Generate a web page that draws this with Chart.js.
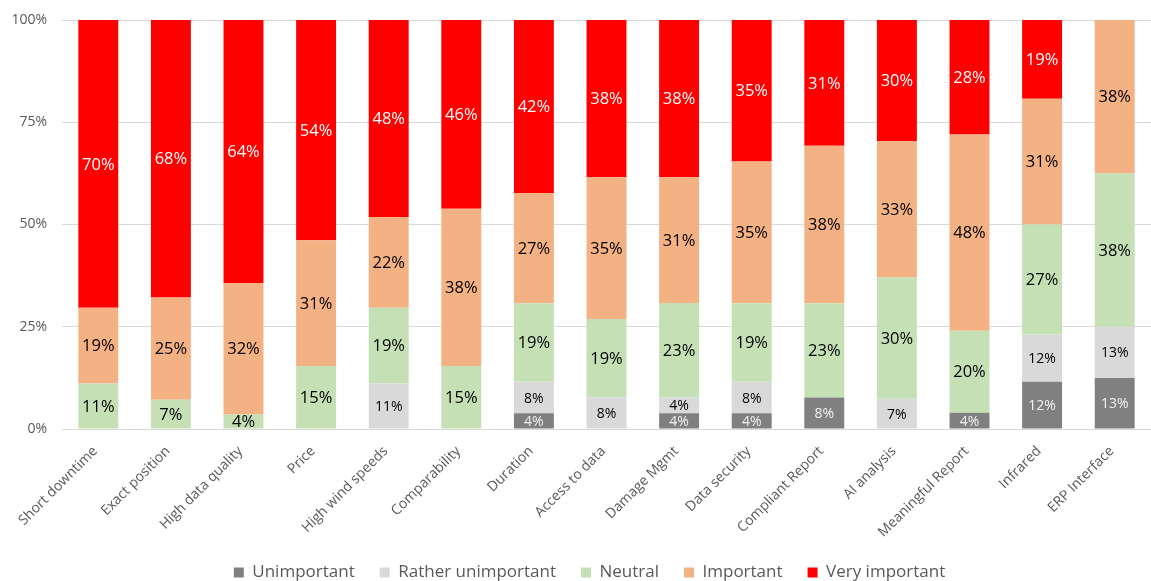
<!DOCTYPE html>
<html>
<head>
<meta charset="utf-8">
<script src="https://cdn.jsdelivr.net/npm/chart.js@4/dist/chart.umd.min.js"></script>
<style>
  html, body { margin: 0; padding: 0; background: #ffffff; }
  #wrap { width: 1151px; height: 581px; position: relative; }
</style>
</head>
<body>
<div id="wrap"><canvas id="c" width="1151" height="581"></canvas></div>
<script>
const categories = ["Short downtime", "Exact position", "High data quality", "Price", "High wind speeds",
  "Comparability", "Duration", "Access to data", "Damage Mgmt", "Data security",
  "Compliant Report", "AI analysis", "Meaningful Report", "Infrared", "ERP Interface"];

const seriesNames = ["Unimportant", "Rather unimportant", "Neutral", "Important", "Very important"];

const unimportant       = [0, 0, 0, 0, 0, 0, 3.85, 0, 3.85, 3.85, 7.69, 0, 4.0, 11.54, 12.5];
const ratherUnimportant = [0, 0, 0, 0, 11.11, 0, 7.69, 7.69, 3.85, 7.69, 0, 7.41, 0, 11.54, 12.5];
const neutral           = [11.11, 7.14, 3.57, 15.38, 18.52, 15.38, 19.23, 19.23, 23.08, 19.23, 23.08, 29.63, 20.0, 26.92, 37.5];
const important         = [18.52, 25.0, 32.14, 30.77, 22.22, 38.46, 26.92, 34.62, 30.77, 34.62, 38.46, 33.33, 48.0, 30.77, 37.5];
const veryImportant     = [70.37, 67.86, 64.29, 53.85, 48.15, 46.15, 42.31, 38.46, 38.46, 34.62, 30.77, 29.63, 28.0, 19.23, 0];

const yTicks = [0, 25, 50, 75, 100];

const colors = ["#808080", "#d9d9d9", "#c5e0b4", "#f4b183", "#ff0000"];
const labelColors = ["#f2f2f2", "#000000", "#000000", "#000000", "#ffffff"];
const labelSizes = [14, 14, 16.5, 16.5, 16.5];
const FONT = "'Open Sans', sans-serif";

const seriesData = [unimportant, ratherUnimportant, neutral, important, veryImportant];

const labelPlugin = {
  id: 'segLabels',
  beforeDraw(chart) {
    if (chart.legend) { chart.legend.left += 28; }
  },
  afterDatasetsDraw(chart) {
    const ctx = chart.ctx;
    ctx.save();
    ctx.textAlign = 'center';
    ctx.textBaseline = 'middle';
    chart.data.datasets.forEach((ds, di) => {
      const meta = chart.getDatasetMeta(di);
      if (meta.hidden) return;
      meta.data.forEach((el, i) => {
        const v = ds.data[i];
        if (!v) return;
        const p = el.getProps(['x', 'y', 'base'], true);
        ctx.fillStyle = labelColors[di];
        ctx.font = labelSizes[di] + "px " + FONT;
        ctx.fillText(Math.round(v) + '%', p.x, (p.y + p.base) / 2 + 1);
      });
    });
    ctx.restore();
  }
};

new Chart(document.getElementById('c'), {
  type: 'bar',
  data: {
    labels: categories,
    datasets: seriesData.map((d, i) => ({
      label: seriesNames[i],
      data: d,
      backgroundColor: colors[i],
      borderWidth: 0,
      categoryPercentage: 1.0,
      barPercentage: 0.55
    }))
  },
  options: {
    responsive: false,
    animation: false,
    devicePixelRatio: 1,
    layout: { padding: { top: 20, left: 0, right: 0, bottom: -10 } },
    plugins: {
      tooltip: { enabled: false },
      legend: {
        position: 'bottom',
        labels: {
          boxWidth: 10,
          boxHeight: 10,
          padding: 25,
          color: '#595959',
          font: { family: FONT, size: 17 }
        }
      }
    },
    scales: {
      x: {
        stacked: true,
        grid: { display: false },
        border: { display: false },
        afterFit(scale) { scale.paddingLeft = 0; scale.height = 110; },
        ticks: {
          color: '#595959',
          font: { family: FONT, size: 14 },
          minRotation: 45,
          maxRotation: 45,
          padding: 6,
          labelOffset: -3
        }
      },
      y: {
        stacked: true,
        min: 0,
        max: 100,
        afterBuildTicks(scale) { scale.ticks = yTicks.map(v => ({ value: v })); },
        afterFit(scale) { scale.width = 62; scale.paddingTop = 0; scale.paddingBottom = 0; },
        grid: { color: '#d9d9d9', lineWidth: 1, drawTicks: false },
        border: { display: false },
        ticks: {
          color: '#595959',
          font: { family: FONT, size: 14 },
          padding: 15,
          callback: v => v + '%'
        }
      }
    }
  },
  plugins: [labelPlugin]
});
</script>
</body>
</html>
